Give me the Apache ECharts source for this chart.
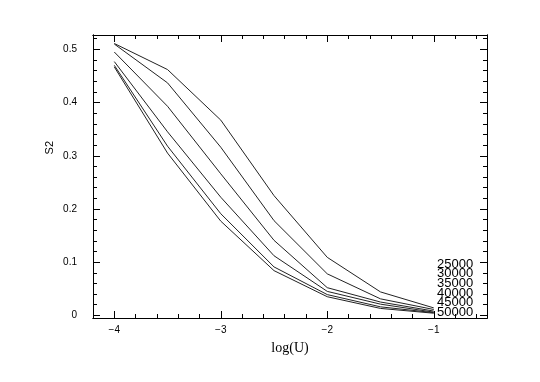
<!DOCTYPE html>
<html>
<head>
<meta charset="utf-8">
<script src="https://cdn.jsdelivr.net/npm/echarts@6/dist/echarts.min.js"></script>
<style>html,body{margin:0;padding:0;background:#fff;}#c{width:540px;height:382px;}</style>
</head>
<body>
<div id="c"></div>
<script>
const logU = [-4, -3.5, -3, -2.5, -2, -1.5, -1];
const seriesNames = ['25000', '30000', '35000', '40000', '45000', '50000'];
const s25000 = [0.511, 0.462, 0.367, 0.225, 0.109, 0.044, 0.014];
const s30000 = [0.510, 0.437, 0.316, 0.178, 0.078, 0.031, 0.011];
const s35000 = [0.495, 0.393, 0.266, 0.141, 0.052, 0.025, 0.008];
const s40000 = [0.477, 0.345, 0.222, 0.112, 0.045, 0.021, 0.006];
const s45000 = [0.470, 0.318, 0.191, 0.091, 0.039, 0.016, 0.005];
const s50000 = [0.467, 0.305, 0.177, 0.084, 0.035, 0.013, 0.004];
const xMajorTicks = [-4, -3, -2, -1];
const yMajorTicks = [0, 0.1, 0.2, 0.3, 0.4, 0.5];
const xMinorTicks = [-4.2,-4.0,-3.8,-3.6,-3.4,-3.2,-3.0,-2.8,-2.6,-2.4,-2.2,-2.0,-1.8,-1.6,-1.4,-1.2,-1.0,-0.8,-0.6];
const yMinorTicks = [0,0.02,0.04,0.06,0.08,0.1,0.12,0.14,0.16,0.18,0.2,0.22,0.24,0.26,0.28,0.3,0.32,0.34,0.36,0.38,0.4,0.42,0.44,0.46,0.48,0.5,0.52];

const allSeries = [s25000, s30000, s35000, s40000, s45000, s50000];
const ink = '#000';
const fmt = v => (v < 0 ? '\u2212' + Math.abs(v) : String(v));

function xAx(pos, major, showLabel) {
  return {
    type: 'value', min: -4.2, max: -0.5, position: pos,
    axisLine: { show: true, onZero: false, lineStyle: { color: ink, width: 1 } },
    axisTick: { show: true, inside: true, length: major ? 7 : 4, customValues: major ? xMajorTicks : xMinorTicks, lineStyle: { color: ink, width: 1 } },
    axisLabel: { show: showLabel, customValues: xMajorTicks, formatter: fmt, fontFamily: 'Liberation Sans', fontSize: 10, color: ink, margin: 7 },
    splitLine: { show: false },
    name: showLabel ? 'log(U)' : '', nameLocation: 'middle', nameGap: 23,
    nameTextStyle: { fontFamily: 'Liberation Serif', fontSize: 14, color: ink }
  };
}
function yAx(pos, major, showLabel) {
  return {
    type: 'value', min: -0.005, max: 0.527, position: pos,
    axisLine: { show: true, onZero: false, lineStyle: { color: ink, width: 1 } },
    axisTick: { show: true, inside: true, length: major ? 7 : 4, customValues: major ? yMajorTicks : yMinorTicks, lineStyle: { color: ink, width: 1 } },
    axisLabel: { show: showLabel, customValues: yMajorTicks, formatter: v => String(v), fontFamily: 'Liberation Sans', fontSize: 10, color: ink, margin: 16 },
    splitLine: { show: false }
  };
}

const chart = echarts.init(document.getElementById('c'), null, { renderer: 'canvas' });
chart.setOption({
  backgroundColor: '#fff',
  animation: false,
  grid: { left: 93, right: 53, top: 35, bottom: 64, containLabel: false },
  xAxis: [xAx('bottom', true, true), xAx('bottom', false, false), xAx('top', true, false), xAx('top', false, false)],
  yAxis: [yAx('left', true, true), yAx('left', false, false), yAx('right', true, false), yAx('right', false, false)],
  series: allSeries.map((d, i) => ({
    name: seriesNames[i], type: 'line', xAxisIndex: 0, yAxisIndex: 0,
    data: logU.map((x, j) => [x, d[j]]),
    showSymbol: false, symbol: 'none',
    lineStyle: { color: '#222', width: 1 }
  })),
  graphic: [
    { type: 'text', left: 44, top: 141, rotation: Math.PI / 2, style: { text: 'S2', fontFamily: 'Liberation Sans', fontSize: 11, fill: ink } }
  ].concat(seriesNames.map((n, i) => ({
    type: 'text', x: 437, y: 264 + i * 9.7,
    style: { text: n, fontFamily: 'Liberation Sans', fontSize: 13, fill: ink, verticalAlign: 'middle', align: 'left' }
  })))
});
</script>
</body>
</html>
